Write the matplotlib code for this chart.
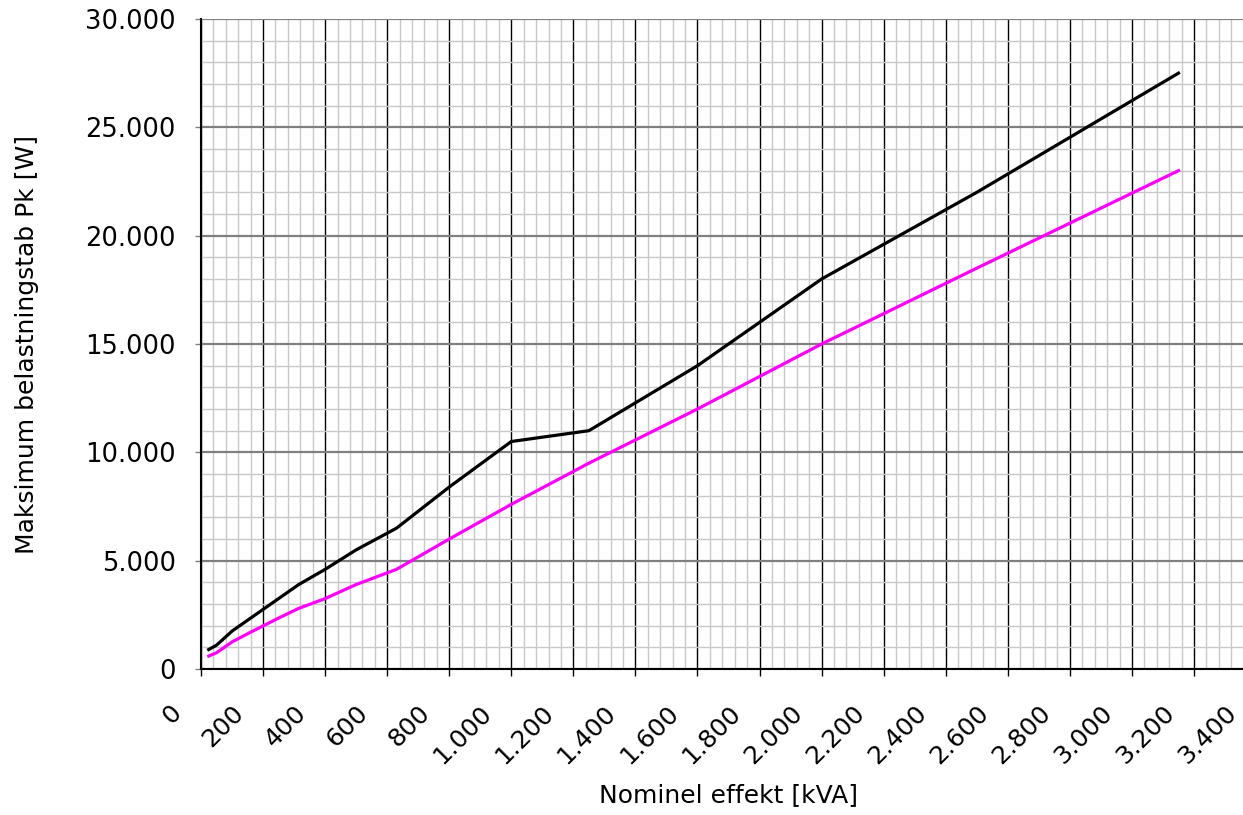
import matplotlib.pyplot as plt
from matplotlib.ticker import MultipleLocator, FuncFormatter
from matplotlib.transforms import ScaledTranslation

# Nominal power (kVA) and max load loss Pk (W)
kva = [25, 50, 100, 160, 250, 315, 400, 500, 630, 800, 1000, 1250, 1600, 2000, 2500, 3150]
pk_black = [900, 1100, 1750, 2350, 3250, 3900, 4600, 5500, 6500, 8400, 10500, 11000, 14000, 18000, 22000, 27500]
pk_magenta = [600, 750, 1250, 1700, 2350, 2800, 3250, 3900, 4600, 6000, 7600, 9500, 12000, 15000, 18500, 23000]

x_label = 'Nominel effekt [kVA]'
y_label = 'Maksimum belastningstab Pk [W]'

plt.rcParams['font.family'] = ['DejaVu Sans']

fig = plt.figure(figsize=(12.43, 8.15), dpi=100)
# axes runs past the right edge on purpose (the 3.400 gridline is off-image in the original)
ax = fig.add_axes([0.1617, 0.1791, 0.8488, 0.7976])

ax.plot(kva, pk_black, color='black', lw=2.3, zorder=3)
ax.plot(kva, pk_magenta, color='#ff00ff', lw=2.3, zorder=3)

ax.set_xlim(0, 3400)
ax.set_ylim(0, 30000)
ax.xaxis.set_major_locator(MultipleLocator(200))
ax.xaxis.set_minor_locator(MultipleLocator(40))
ax.yaxis.set_major_locator(MultipleLocator(5000))
ax.yaxis.set_minor_locator(MultipleLocator(1000))

dots = FuncFormatter(lambda v, p: f'{int(v):,}'.replace(',', '.'))
ax.xaxis.set_major_formatter(dots)
ax.yaxis.set_major_formatter(dots)

ax.grid(which='minor', color='#c8c8c8', lw=1, zorder=0)
ax.grid(which='major', axis='x', color='black', lw=1, zorder=1)
ax.grid(which='major', axis='y', color='#808080', lw=1.6, zorder=1)
ax.set_axisbelow(True)

for s in ['top', 'right']:
    ax.spines[s].set_visible(False)
ax.spines['left'].set_linewidth(1.5)
ax.spines['bottom'].set_linewidth(1.5)

ax.tick_params(which='minor', length=0)
ax.tick_params(axis='y', which='major', length=4.3, width=1, color='#808080',
               labelsize=18.5, pad=14)
ax.tick_params(axis='x', which='major', length=5, width=1, color='black',
               labelsize=18, pad=24)
shift = ScaledTranslation(-0.23, 0, fig.dpi_scale_trans)
for lab in ax.get_xticklabels():
    lab.set_rotation(45)
    lab.set_ha('right')
    lab.set_va('center')
    lab.set_rotation_mode('anchor')
    lab.set_transform(lab.get_transform() + shift)

ax.set_xlabel(x_label, fontsize=18, va='center')
ax.xaxis.set_label_coords(0.5, -0.194)
ax.set_ylabel(y_label, fontsize=18, va='center')
ax.yaxis.set_label_coords(-0.165, 0.5)

fig.savefig('out.png', dpi=100)
